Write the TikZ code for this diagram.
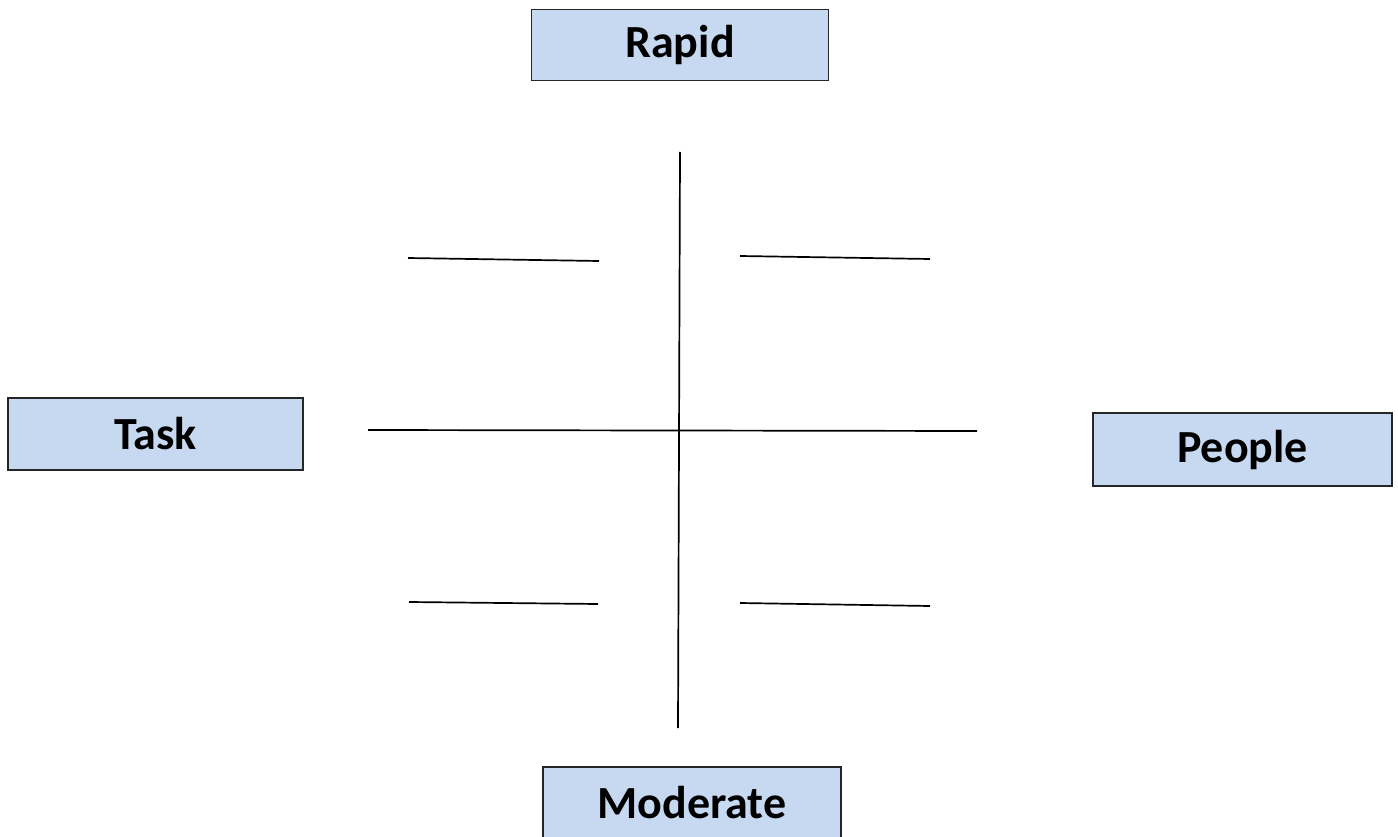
\documentclass[tikz,border=0pt]{standalone}
\usepackage{fontspec}
\setmainfont{Carlito}
\begin{document}
\begin{tikzpicture}[x=1pt,y=-1pt,
  labelbox/.style={draw=black!85, line width=1.5pt, fill=boxblue, minimum width=297pt, minimum height=71pt, inner sep=0pt, font=\fontsize{46}{52}\selectfont\bfseries},
  axis/.style={line width=1.7pt, black}]
\definecolor{boxblue}{HTML}{C6D9F1}
\useasboundingbox (0,0) rectangle (1398,837);
\begin{scope}
\clip (0,0) rectangle (1398,837);
\node[labelbox] (rapid) at (680,45) {Rapid};
\node[labelbox, minimum width=295pt, minimum height=72pt] (task) at (155.5,434) {Task};
\node[labelbox, minimum width=299pt, minimum height=73pt] (people) at (1242.5,449.5) {People};
\node[labelbox, minimum width=298pt] (moderate) at (692,802.5) {Moderate};
\coordinate (vt) at (680,152);
\coordinate (vb) at (678,728);
\coordinate (hl) at (368,430);
\coordinate (hr) at (977,431);
\draw[axis] (vt) -- (vb);
\draw[axis] (hl) -- (hr);
\coordinate (a1) at (408,258); \coordinate (a2) at (599,261);
\coordinate (b1) at (740,256); \coordinate (b2) at (930,259);
\coordinate (c1) at (409,602); \coordinate (c2) at (598,604);
\coordinate (d1) at (740,603); \coordinate (d2) at (930,606);
\draw[axis] (a1) -- (a2);
\draw[axis] (b1) -- (b2);
\draw[axis] (c1) -- (c2);
\draw[axis] (d1) -- (d2);
\end{scope}
\end{tikzpicture}
\end{document}
